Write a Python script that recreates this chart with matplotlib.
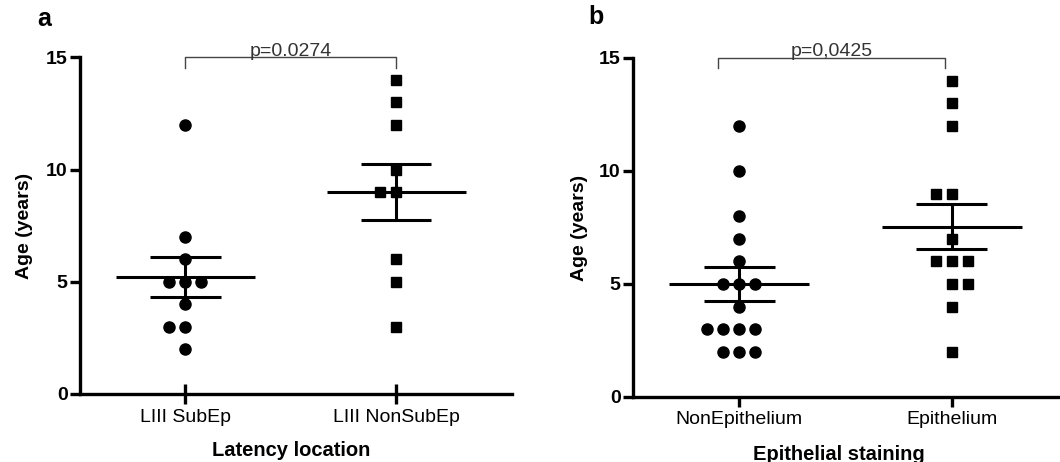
import numpy as np
import matplotlib.pyplot as plt

plt.rcParams['font.family'] = ['Liberation Sans', 'DejaVu Sans']

# panel a - latency location
groups_a = ['LIII SubEp', 'LIII NonSubEp']
subep = [12, 7, 6, 5, 5, 5, 4, 3, 3, 2]
nonsubep = [14, 13, 12, 10, 9, 9, 6, 5, 3]
p_a = 'p=0.0274'

# panel b - epithelial staining
groups_b = ['NonEpithelium', 'Epithelium']
nonepi = [12, 10, 8, 7, 6, 5, 5, 5, 4, 3, 3, 3, 3, 2, 2, 2]
epi = [14, 13, 12, 9, 9, 7, 6, 6, 6, 5, 5, 4, 2]
p_b = 'p=0,0425'

yticks = [0, 5, 10, 15]
FS = 14


def spread(vals, step=0.076):
    # put tied values side by side (prism style)
    vals = np.asarray(vals, dtype=float)
    xs = np.zeros(len(vals))
    flip = False
    for v in sorted(set(vals), reverse=True):
        idx = np.where(vals == v)[0]
        k = len(idx)
        off = np.arange(k) - k // 2
        if k % 2 == 0:
            if flip:
                off = off + 1
            flip = not flip
        xs[idx] = off * step
    return xs


def panel(ax, names, data, markers, ptext, xlim, br, xtick_dir, xtick_len):
    for i, (vals, m) in enumerate(zip(data, markers)):
        x = i + spread(vals)
        ms = 8 if m == 'o' else 7.5
        ax.plot(x, vals, ls='none', marker=m, color='black', ms=ms,
                clip_on=False, zorder=3)
        mean = np.mean(vals)
        sem = np.std(vals, ddof=1) / np.sqrt(len(vals))
        ax.hlines(mean, i - 0.33, i + 0.33, color='black', lw=2.2, zorder=4)
        ax.hlines([mean - sem, mean + sem], i - 0.167, i + 0.167,
                  color='black', lw=2.2, zorder=4)
        ax.vlines(i, mean - sem, mean + sem, color='black', lw=2.2, zorder=4)

    # significance bracket
    ax.plot([br[0], br[0], br[1], br[1]], [14.55, 15, 15, 14.55],
            color='#444444', lw=1, clip_on=False)
    ax.text((br[0] + br[1]) / 2, 15.07, ptext, ha='center', va='baseline',
            fontsize=FS, color='#333333')

    ax.set_xlim(xlim)
    ax.set_ylim(0, 15)
    ax.set_yticks(yticks)
    ax.set_yticklabels([str(t) for t in yticks], fontweight='bold', fontsize=FS)
    ax.set_xticks(range(len(names)))
    ax.set_xticklabels(names, fontsize=FS)
    for s in ['top', 'right']:
        ax.spines[s].set_visible(False)
    for s in ['left', 'bottom']:
        ax.spines[s].set_linewidth(2.4)
    ax.tick_params(axis='y', direction='out', length=7, width=2.4, pad=2)
    ax.tick_params(axis='x', direction=xtick_dir, length=xtick_len, width=2.4, pad=3)
    ax.set_ylabel('Age (years)', fontweight='bold', fontsize=FS)


fig = plt.figure(figsize=(10.6, 4.62), dpi=100)
ax1 = fig.add_axes([0.0755, 0.1472, 0.4075, 0.7284])
ax2 = fig.add_axes([0.5972, 0.1407, 0.401, 0.7338])

panel(ax1, groups_a, [subep, nonsubep], ['o', 's'], p_a, (-0.5, 1.55),
      (0, 1), 'inout', 15)
ax1.set_xlabel('Latency location', fontweight='bold', fontsize=FS + 0.5)
ax1.yaxis.set_label_coords(-0.109, 0.5)
ax1.xaxis.set_label_coords(0.488, -0.14)

panel(ax2, groups_b, [nonepi, epi], ['o', 's'], p_b, (-0.5, 1.5),
      (-0.1, 0.97), 'out', 7)
ax2.set_xlabel('Epithelial staining', fontweight='bold', fontsize=FS + 0.5)
ax2.yaxis.set_label_coords(-0.106, 0.5)
ax2.xaxis.set_label_coords(0.485, -0.142)

fig.text(44 / 1060, 1 - 19 / 462, 'a', fontweight='bold', fontsize=18,
         ha='center', va='center')
fig.text(596 / 1060, 1 - 17 / 462, 'b', fontweight='bold', fontsize=18,
         ha='center', va='center')

fig.savefig('out.png', dpi=100)
